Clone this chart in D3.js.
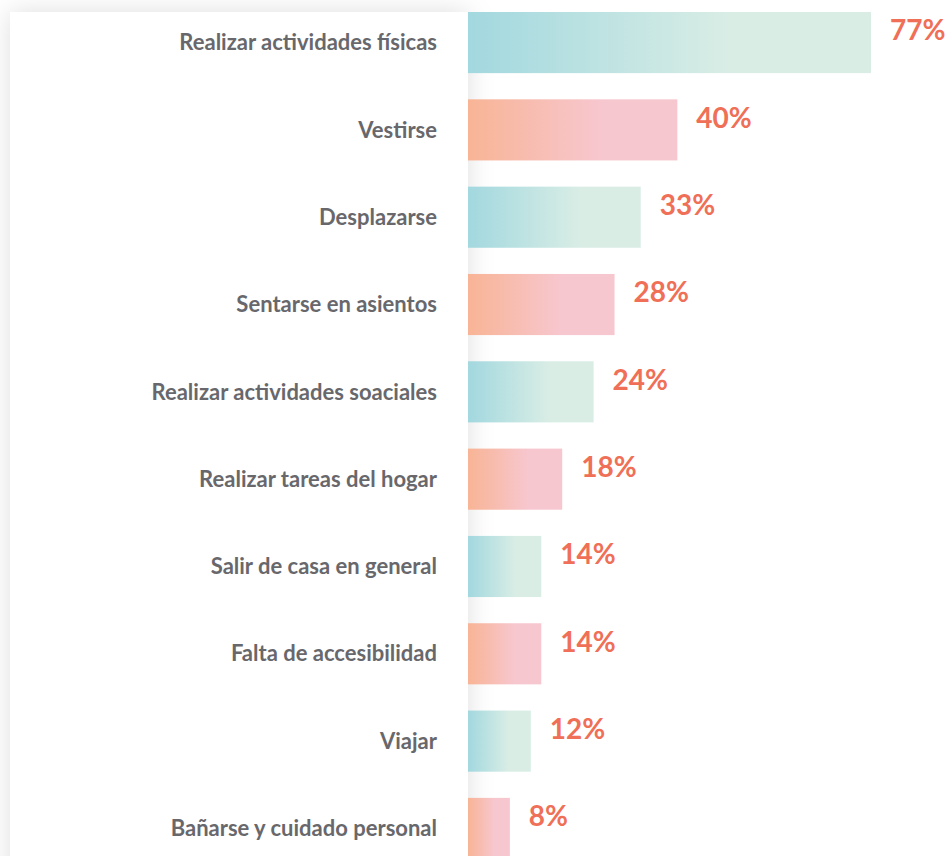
<!DOCTYPE html>
<html>
<head>
<meta charset="utf-8">
<script src="https://cdn.jsdelivr.net/npm/d3@7"></script>
<style>
  html, body { margin: 0; padding: 0; background: #ffffff; }
  svg { display: block; }
</style>
</head>
<body>
<svg id="chart" width="949" height="856"></svg>
<script>
const categories = [
  "Realizar actividades físicas",
  "Vestirse",
  "Desplazarse",
  "Sentarse en asientos",
  "Realizar actividades soaciales",
  "Realizar tareas del hogar",
  "Salir de casa en general",
  "Falta de accesibilidad",
  "Viajar",
  "Bañarse y cuidado personal"
];
const values = [77, 40, 33, 28, 24, 18, 14, 14, 12, 8];
const valueLabels = ["77%", "40%", "33%", "28%", "24%", "18%", "14%", "14%", "12%", "8%"];
const colorGroups = ["teal", "pink", "teal", "pink", "teal", "pink", "teal", "pink", "teal", "pink"];

const W = 949, H = 856;
const x0 = 468;
const svg = d3.select("#chart");
const defs = svg.append("defs");

const grads = {
  teal: ["#a2d8df", "#d9ede5"],
  pink: ["#f8b495", "#f7c7d0"]
};
Object.entries(grads).forEach(([k, c]) => {
  const g = defs.append("linearGradient").attr("id", "g-" + k)
    .attr("x1", "0").attr("x2", "1").attr("y1", "0").attr("y2", "0");
  g.append("stop").attr("offset", "0").attr("stop-color", c[0]);
  g.append("stop").attr("offset", "0.65").attr("stop-color", c[1]);
  g.append("stop").attr("offset", "1").attr("stop-color", c[1]);
});

const f = defs.append("filter").attr("id", "shadow")
  .attr("x", "-20%").attr("y", "-20%").attr("width", "140%").attr("height", "140%");
f.append("feDropShadow").attr("dx", 0).attr("dy", 0).attr("stdDeviation", 13)
  .attr("flood-color", "#000").attr("flood-opacity", 0.13);

// label card with soft shadow
svg.append("rect")
  .attr("x", 10).attr("y", 12).attr("width", x0 - 10).attr("height", H + 40)
  .attr("fill", "#ffffff").attr("filter", "url(#shadow)");

const y = d3.scaleBand()
  .domain(categories)
  .range([12, 859])
  .paddingInner(0.30)
  .paddingOuter(0);

const x = d3.scaleLinear().domain([0, 77]).range([0, 403]);

// bars
svg.append("g").selectAll("rect")
  .data(categories)
  .join("rect")
  .attr("x", x0)
  .attr("y", d => y(d))
  .attr("width", (d, i) => x(values[i]))
  .attr("height", y.bandwidth())
  .attr("fill", (d, i) => "url(#g-" + colorGroups[i] + ")");

// category labels
svg.append("g").selectAll("text")
  .data(categories)
  .join("text")
  .attr("x", 437)
  .attr("y", d => y(d) + y.bandwidth() / 2)
  .attr("dy", "0.35em")
  .attr("text-anchor", "end")
  .attr("font-family", "Lato, 'Open Sans', sans-serif")
  .attr("font-weight", 700)
  .attr("font-size", 22)
  .attr("fill", "#68686c")
  .text(d => d);

// value labels
svg.append("g").selectAll("text")
  .data(categories)
  .join("text")
  .attr("x", (d, i) => x0 + x(values[i]) + 19)
  .attr("y", d => y(d) + y.bandwidth() / 2 - 12)
  .attr("dy", "0.35em")
  .attr("font-family", "Lato, 'Open Sans', sans-serif")
  .attr("font-weight", 700)
  .attr("font-size", 28)
  .attr("fill", "#ef6f57")
  .text((d, i) => valueLabels[i]);
</script>
</body>
</html>
